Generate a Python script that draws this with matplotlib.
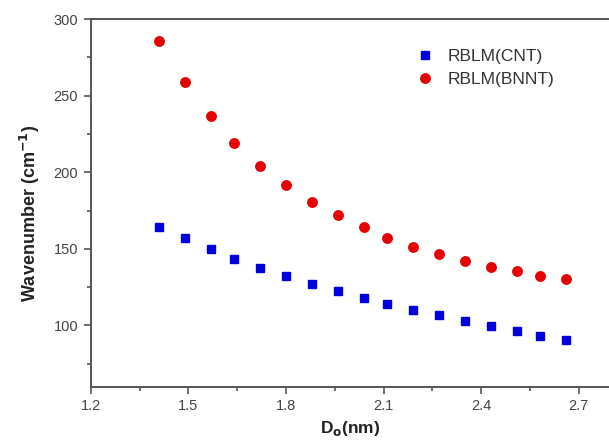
import matplotlib.pyplot as plt
from matplotlib.ticker import MultipleLocator

plt.rcParams['font.family'] = ['Liberation Sans', 'DejaVu Sans']

# tube diameter (nm)
d_o = [1.41, 1.49, 1.57, 1.64, 1.72, 1.80, 1.88, 1.96, 2.04,
       2.11, 2.19, 2.27, 2.35, 2.43, 2.51, 2.58, 2.66]

# radial breathing modes (cm^-1)
rblm_cnt = [164.6, 156.8, 149.9, 143.4, 137.7, 132.3, 127.3, 122.3, 118.2,
            114.0, 110.3, 106.7, 102.9, 99.7, 96.4, 93.3, 90.3]
rblm_bnnt = [285.9, 258.9, 237.0, 219.0, 204.2, 191.5, 180.9, 171.8, 164.0,
             157.0, 151.4, 146.7, 142.2, 138.3, 135.7, 132.5, 130.3]

xticks = [1.2, 1.5, 1.8, 2.1, 2.4, 2.7]
yticks = [100, 150, 200, 250, 300]

fig = plt.figure(figsize=(6.09, 4.46), dpi=100)
ax = fig.add_axes([0.149, 0.133, 0.851, 0.824])

ax.plot(d_o, rblm_cnt, 's', c='#0000dd', ms=5.8, mec='#0000dd', label='RBLM(CNT)')
ax.plot(d_o, rblm_bnnt, 'o', c='#e60000', ms=6.8, mec='#e60000', label='RBLM(BNNT)')

ax.set_xlim(1.2, 2.793)
ax.set_ylim(60, 300)
ax.set_xticks(xticks)
ax.set_xticklabels(['%.1f' % t for t in xticks])
ax.set_yticks(yticks)
ax.xaxis.set_minor_locator(MultipleLocator(0.15))
ax.yaxis.set_minor_locator(MultipleLocator(25))

for s in ax.spines.values():
    s.set_color('#555555')
    s.set_linewidth(1.4)
ax.spines['right'].set_visible(False)
ax.tick_params(which='major', direction='out', length=5, width=1.2,
               color='#555555', labelsize=10.5, labelcolor='#444444', pad=4)
ax.tick_params(which='minor', direction='out', length=3, width=1.2, color='#555555')

ax.set_xlabel('D$_\\mathbf{o}$(nm)', fontsize=12.5, fontweight='bold', color='#222222', labelpad=4)
ax.set_ylabel('Wavenumber (cm$^{\\mathbf{-1}}$)', fontsize=13, fontweight='bold',
              color='#222222', labelpad=6)
ax.yaxis.set_label_coords(-0.094, 0.47)

ax.legend(loc='upper left', bbox_to_anchor=(0.595, 0.962), frameon=False,
          fontsize=12.5, handletextpad=0.7, labelspacing=0.45, handlelength=1.2,
          labelcolor='#333333')

fig.savefig('out.png', dpi=100)
